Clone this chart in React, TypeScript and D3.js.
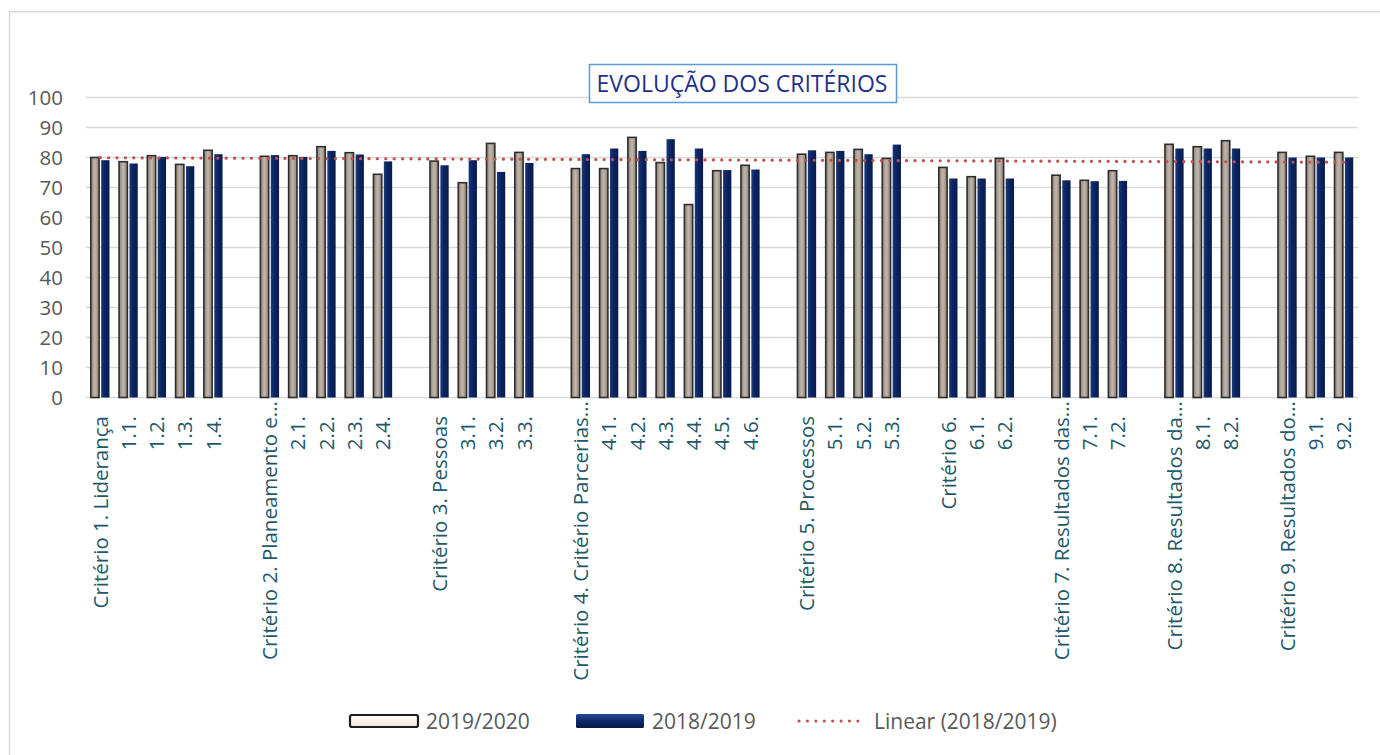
import React from "react";
import * as d3 from "d3";

const categories: string[] = [
  "Critério 1. Liderança", "1.1.", "1.2.", "1.3.", "1.4.", "",
  "Critério 2. Planeamento e...", "2.1.", "2.2.", "2.3.", "2.4.", "",
  "Critério 3. Pessoas", "3.1.", "3.2.", "3.3.", "",
  "Critério 4. Critério Parcerias...", "4.1.", "4.2.", "4.3.", "4.4.", "4.5.", "4.6.", "",
  "Critério 5. Processos", "5.1.", "5.2.", "5.3.", "",
  "Critério 6.", "6.1.", "6.2.", "",
  "Critério 7. Resultados das...", "7.1.", "7.2.", "",
  "Critério 8. Resultados da...", "8.1.", "8.2.", "",
  "Critério 9. Resultados do...", "9.1.", "9.2.",
];

const s2019_2020: (number | null)[] = [
  80, 78.6, 80.6, 77.7, 82.4, null,
  80.4, 80.6, 83.6, 81.6, 74.4, null,
  78.8, 71.6, 84.7, 81.7, null,
  76.3, 76.3, 86.7, 78.3, 64.3, 75.6, 77.4, null,
  81.1, 81.7, 82.7, 79.7, null,
  76.7, 73.6, 79.7, null,
  74.1, 72.4, 75.6, null,
  84.4, 83.6, 85.6, null,
  81.7, 80.4, 81.7,
];

const s2018_2019: (number | null)[] = [
  79.1, 78, 80.2, 77.1, 81.1, null,
  80.8, 80.2, 82.2, 81, 78.7, null,
  77.4, 79.1, 75.2, 78.2, null,
  81.1, 83, 82.2, 86.1, 83, 75.8, 76, null,
  82.4, 82.2, 81.1, 84.3, null,
  73, 73, 73, null,
  72.4, 72.1, 72.2, null,
  83, 83, 83, null,
  80, 80, 80,
];

const yTicks: number[] = [0, 10, 20, 30, 40, 50, 60, 70, 80, 90, 100];
const seriesNames = ["2019/2020", "2018/2019"];
const trendName = "Linear (2018/2019)";
const title = "EVOLUÇÃO DOS CRITÉRIOS";

const W = 1380;
const H = 755;
const FONT = "'Open Sans', sans-serif";

export default function App() {
  const left = 86, right = 1358, top = 97.5, bottom = 397.5;
  const idx = categories.map((_, i) => i);
  const x0 = d3.scaleBand<number>().domain(idx).range([left, right]).paddingInner(0).paddingOuter(0);
  const x1 = d3.scaleBand<string>().domain(seriesNames).range([0, x0.bandwidth()]).paddingInner(0.2).paddingOuter(0.46);
  const y = d3.scaleLinear().domain([0, 100]).range([bottom, top]);

  // Linear trendline (least squares) over category positions 1..n for 2018/2019
  const pts = s2018_2019
    .map((v, i) => (v == null ? null : [i + 1, v] as [number, number]))
    .filter((p): p is [number, number] => p !== null);
  const mx = d3.mean(pts, (p) => p[0])!;
  const my = d3.mean(pts, (p) => p[1])!;
  const slope = d3.sum(pts, (p) => (p[0] - mx) * (p[1] - my)) / d3.sum(pts, (p) => (p[0] - mx) ** 2);
  const intercept = my - slope * mx;
  const n = categories.length;
  const trendData: [number, number][] = [1, n].map((k) => [k, intercept + slope * k]);
  const cx = (i: number) => (x0(i) as number) + x0.bandwidth() / 2;
  const trendLine = d3
    .line<[number, number]>()
    .x((d) => cx(d[0] - 1))
    .y((d) => y(d[1]))(trendData);

  return (
    <svg width={W} height={H} style={{ position: "absolute", left: 0, top: 0, background: "#fff" }}>
      <defs>
        <linearGradient id="gGray" x1="0" x2="1" y1="0" y2="0">
          <stop offset="0" stopColor="#8d8178" />
          <stop offset="0.5" stopColor="#c3b7ab" />
          <stop offset="1" stopColor="#8d8178" />
        </linearGradient>
        <linearGradient id="gBlue" x1="0" x2="1" y1="0" y2="0">
          <stop offset="0" stopColor="#1c3a80" />
          <stop offset="0.4" stopColor="#0c2561" />
          <stop offset="1" stopColor="#081c4c" />
        </linearGradient>
        <linearGradient id="gCream" x1="0" x2="0" y1="0" y2="1">
          <stop offset="0" stopColor="#ffffff" />
          <stop offset="1" stopColor="#f6e6d8" />
        </linearGradient>
        <linearGradient id="gBlueLeg" x1="0" x2="0" y1="0" y2="1">
          <stop offset="0" stopColor="#2a4a92" />
          <stop offset="0.5" stopColor="#0f2a6a" />
          <stop offset="1" stopColor="#071a48" />
        </linearGradient>
      </defs>

      {/* outer chart border */}
      <rect x={9.5} y={11.75} width={1400} height={800} fill="none" stroke="#d9d9d9" strokeWidth={1.5} />

      {/* gridlines */}
      {yTicks.map((t) => (
        <line key={t} x1={left} x2={right} y1={y(t)} y2={y(t)} stroke="#d9d9d9" strokeWidth={1.5} />
      ))}

      {/* y tick labels */}
      {yTicks.map((t) => (
        <text key={t} x={63} y={y(t)} dy="0.36em" textAnchor="end" fontFamily={FONT} fontSize={20.5} fill="#595959">
          {t}
        </text>
      ))}

      {/* bars */}
      {idx.map((i) => {
        const a = s2019_2020[i];
        const b = s2018_2019[i];
        const bx = x0(i) as number;
        const bw = x1.bandwidth();
        return (
          <g key={i}>
            {b != null && (
              <rect x={bx + (x1("2018/2019") as number)} y={y(b)} width={bw} height={y(0) - y(b)} fill="url(#gBlue)" />
            )}
            {a != null && (
              <rect
                x={bx + (x1("2019/2020") as number)}
                y={y(a)}
                width={bw}
                height={y(0) - y(a)}
                fill="url(#gGray)"
                stroke="#2e2e2e"
                strokeWidth={1.6}
              />
            )}
          </g>
        );
      })}

      {/* trendline */}
      <path d={trendLine || ""} fill="none" stroke="#c0504d" strokeWidth={3.2} strokeDasharray="0.1 8.3" strokeLinecap="round" />

      {/* x labels */}
      {idx.map((i) => {
        const lab = categories[i];
        if (!lab) return null;
        const anchorY = lab.endsWith("...") ? 401 : 416;
        return (
          <text
            key={i}
            transform={`translate(${cx(i)},${anchorY}) rotate(-90)`}
            dy="0.36em"
            textAnchor="end"
            fontFamily={FONT}
            fontSize={20.5}
            fill="#215868"
          >
            {lab}
          </text>
        );
      })}

      {/* title */}
      <rect x={589.5} y={64.5} width={307} height={38} fill="#fff" stroke="#5b9bd5" strokeWidth={1.5} />
      <text x={742} y={84} dy="0.36em" textAnchor="middle" fontFamily={FONT} fontSize={23} fill="#1f2f8a">
        {title}
      </text>

      {/* legend */}
      <g fontFamily={FONT} fontSize={21} fill="#595959">
        <rect x={350} y={715} width={68} height={12} rx={2} fill="url(#gCream)" stroke="#1e1e1e" strokeWidth={2.2} />
        <text x={426} y={721} dy="0.36em">{seriesNames[0]}</text>
        <rect x={576} y={714} width={68} height={14} rx={1.5} fill="url(#gBlueLeg)" />
        <text x={652} y={721} dy="0.36em">{seriesNames[1]}</text>
        <line x1={799} x2={866} y1={721} y2={721} stroke="#c0504d" strokeWidth={3} strokeDasharray="0.1 8.3" strokeLinecap="round" />
        <text x={874} y={721} dy="0.36em">{trendName}</text>
      </g>
    </svg>
  );
}
